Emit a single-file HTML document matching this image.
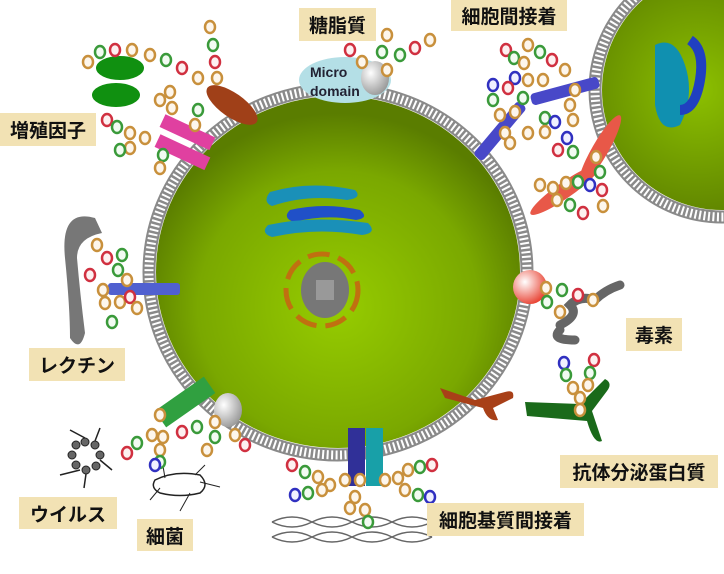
<!DOCTYPE html>
<html><head><meta charset="utf-8"><style>
html,body{margin:0;padding:0;background:#fff;}
.lb{position:absolute;background:#f2e2b4;font-family:"Liberation Sans","Noto Sans CJK JP",sans-serif;font-weight:bold;font-size:19px;color:#111;display:flex;align-items:center;justify-content:center;}
svg{position:absolute;left:0;top:0}
.t{fill:#fdf6ec;stroke:#c8903c;stroke-width:2.5}
.g{fill:#f2fbf2;stroke:#3a9a3a;stroke-width:2.5}
.r{fill:#fdf0f0;stroke:#d03040;stroke-width:2.5}
.b{fill:#f0f0ff;stroke:#3030c0;stroke-width:2.5}
</style></head><body>
<svg width="724" height="574" viewBox="0 0 724 574">
<defs>
<radialGradient id="cg" cx="0.5" cy="0.6" r="0.55">
<stop offset="0" stop-color="#96cc00"/><stop offset="0.7" stop-color="#7aa800"/><stop offset="1" stop-color="#5a7d00"/></radialGradient>
<radialGradient id="cg2" cx="0.4" cy="0.5" r="0.6">
<stop offset="0" stop-color="#8cc000"/><stop offset="1" stop-color="#5a7d00"/></radialGradient>
<radialGradient id="gr" cx="0.35" cy="0.35" r="0.7"><stop offset="0" stop-color="#fff"/><stop offset="1" stop-color="#999"/></radialGradient>
<radialGradient id="rd" cx="0.35" cy="0.35" r="0.7"><stop offset="0" stop-color="#fff"/><stop offset="1" stop-color="#e84030"/></radialGradient>
</defs>
<!-- second cell -->
<circle cx="722" cy="90" r="127" fill="none" stroke="#8a8a8a" stroke-width="13"/>
<circle cx="722" cy="90" r="127" fill="none" stroke="#fff" stroke-width="9" stroke-dasharray="2 2.5"/>
<circle cx="722" cy="90" r="120" fill="url(#cg2)"/>
<path d="M655 45 q20 -10 30 20 q10 30 -5 60 q-20 10 -25 -20z" fill="#1090b0"/>
<path d="M690 40 q15 10 10 40 q-5 30 -20 30" fill="none" stroke="#2040c0" stroke-width="10"/>
<!-- main cell -->
<ellipse cx="338" cy="272" rx="189" ry="183" fill="none" stroke="#8a8a8a" stroke-width="13"/>
<ellipse cx="338" cy="272" rx="189" ry="183" fill="none" stroke="#fff" stroke-width="9" stroke-dasharray="2 2.5"/>
<ellipse cx="338" cy="272" rx="182" ry="176" fill="url(#cg)"/>
<!-- golgi -->
<path d="M270 192 q40 -12 85 -2 q8 8 -8 10 q-40 -6 -75 6 q-10 -4 -2 -14z" fill="#1a90b8"/>
<path d="M290 210 q35 -8 70 0 q10 8 -4 10 q-30 -6 -62 2 q-12 -4 -4 -12z" fill="#2050c8"/>
<path d="M268 225 q45 -10 100 -2 q10 10 -6 12 q-45 -8 -90 2 q-12 -4 -4 -12z" fill="#1a90b8"/>
<!-- nucleus -->
<circle cx="322" cy="290" r="36" fill="none" stroke="#c07010" stroke-width="5" stroke-dasharray="22 9"/>
<ellipse cx="325" cy="290" rx="24" ry="28" fill="#777"/>
<rect x="316" y="280" width="18" height="20" fill="#999"/>
<!-- growth factor receptor -->
<rect x="160" y="125" width="55" height="14" fill="#e040a0" transform="rotate(25 187 132)"/>
<rect x="155" y="145" width="55" height="14" fill="#e040a0" transform="rotate(25 182 152)"/>
<ellipse cx="120" cy="68" rx="24" ry="12" fill="#109010"/>
<ellipse cx="116" cy="95" rx="24" ry="12" fill="#109010"/>
<ellipse cx="232" cy="105" rx="30" ry="12" fill="#a04018" transform="rotate(35 232 105)"/>
<!-- microdomain -->
<ellipse cx="345" cy="80" rx="46" ry="23" fill="#b4dfe6"/>
<text x="310" y="77" font-family="Liberation Sans,sans-serif" font-size="14" font-weight="bold" fill="#223">Micro</text>
<text x="310" y="96" font-family="Liberation Sans,sans-serif" font-size="14" font-weight="bold" fill="#223">domain</text>
<ellipse cx="375" cy="78" rx="14" ry="17" fill="url(#gr)"/>
<!-- cell adhesion -->
<rect x="530" y="85" width="70" height="12" rx="4" fill="#4848c8" transform="rotate(-15 565 91)"/>
<rect x="465" y="125" width="70" height="12" rx="4" fill="#4848c8" transform="rotate(-50 500 131)"/>
<ellipse cx="565" cy="190" rx="42" ry="8" fill="#e85848" transform="rotate(-35 565 190)"/>
<ellipse cx="600" cy="150" rx="40" ry="8" fill="#e85848" transform="rotate(-60 600 150)"/>
<!-- lectin -->
<path d="M95 218 q-35 -10 -30 40 q5 50 5 80 q10 15 15 -5 q-5 -40 -8 -75 q0 -20 25 -25z" fill="#777"/>
<rect x="108" y="283" width="72" height="12" rx="3" fill="#5060d0"/>
<!-- toxin -->
<circle cx="530" cy="287" r="17" fill="url(#rd)"/>
<path d="M560 325 q20 -10 10 -20 q10 -10 25 -5 q10 -10 25 -15" fill="none" stroke="#666" stroke-width="9" stroke-linecap="round"/>
<path d="M560 330 q-10 10 15 10" fill="none" stroke="#666" stroke-width="9" stroke-linecap="round"/>
<!-- antibody -->
<path d="M440 388 l35 12 l30 -8 q10 -3 8 6 l-20 10 l5 12 q-10 2 -15 -12 l-38 -10z" fill="#a84018"/>
<path d="M525 402 l55 2 l25 -25 q8 4 2 12 l-15 20 l10 30 q-8 4 -15 -20 l-60 -5z" fill="#1a6a1a"/>
<!-- bottom receptors -->
<rect x="348" y="428" width="17" height="58" fill="#303098"/>
<rect x="366" y="428" width="17" height="58" fill="#18a0a8"/>
<rect x="155" y="392" width="60" height="20" fill="#30a040" transform="rotate(-35 185 402)"/>
<ellipse cx="228" cy="410" rx="14" ry="17" fill="url(#gr)"/>
<!-- virus -->
<g fill="#666" stroke="#222"><circle cx="85" cy="442" r="4"/><circle cx="95" cy="445" r="4"/><circle cx="100" cy="455" r="4"/><circle cx="96" cy="466" r="4"/><circle cx="86" cy="470" r="4"/><circle cx="76" cy="465" r="4"/><circle cx="72" cy="455" r="4"/><circle cx="76" cy="445" r="4"/></g>
<g stroke="#222" stroke-width="1.5"><line x1="85" y1="438" x2="70" y2="430"/><line x1="95" y1="441" x2="100" y2="428"/><line x1="100" y1="460" x2="112" y2="470"/><line x1="80" y1="470" x2="60" y2="475"/><line x1="86" y1="474" x2="84" y2="488"/></g>
<path d="M155 480 q20 -10 45 -5 q10 10 0 18 q-20 5 -40 0 q-10 -5 -5 -13z" fill="none" stroke="#222" stroke-width="1.5"/>
<path d="M160 488 l-10 12 M190 493 l-10 18 M200 482 l20 5 M165 478 l-2 -12 M195 475 l10 -10" stroke="#222" fill="none"/>
<!-- matrix -->
<path d="M272 522 q20 -10 40 0 t40 0 t40 0 t40 0 M272 522 q20 10 40 0 t40 0 t40 0 t40 0 M272 537 q20 -10 40 0 t40 0 t40 0 t40 0 M272 537 q20 10 40 0 t40 0 t40 0 t40 0" fill="none" stroke="#666" stroke-width="1.5"/>
<!-- beads -->
<g>
<ellipse class="t" cx="210" cy="27" rx="5" ry="6"/><ellipse class="g" cx="213" cy="45" rx="5" ry="6"/><ellipse class="r" cx="215" cy="62" rx="5" ry="6"/><ellipse class="t" cx="217" cy="78" rx="5" ry="6"/>
<ellipse class="t" cx="88" cy="62" rx="5" ry="6"/><ellipse class="g" cx="100" cy="52" rx="5" ry="6"/><ellipse class="r" cx="115" cy="50" rx="5" ry="6"/><ellipse class="t" cx="132" cy="50" rx="5" ry="6"/><ellipse class="t" cx="150" cy="55" rx="5" ry="6"/><ellipse class="g" cx="166" cy="60" rx="5" ry="6"/><ellipse class="r" cx="182" cy="68" rx="5" ry="6"/><ellipse class="t" cx="198" cy="78" rx="5" ry="6"/>
<ellipse class="t" cx="170" cy="92" rx="5" ry="6"/><ellipse class="t" cx="172" cy="108" rx="5" ry="6"/><ellipse class="g" cx="198" cy="110" rx="5" ry="6"/><ellipse class="t" cx="195" cy="125" rx="5" ry="6"/><ellipse class="t" cx="160" cy="100" rx="5" ry="6"/>
<ellipse class="r" cx="107" cy="120" rx="5" ry="6"/><ellipse class="g" cx="117" cy="127" rx="5" ry="6"/><ellipse class="t" cx="130" cy="133" rx="5" ry="6"/><ellipse class="t" cx="145" cy="138" rx="5" ry="6"/><ellipse class="t" cx="130" cy="148" rx="5" ry="6"/><ellipse class="g" cx="120" cy="150" rx="5" ry="6"/><ellipse class="g" cx="163" cy="155" rx="5" ry="6"/><ellipse class="t" cx="160" cy="168" rx="5" ry="6"/>
<ellipse class="r" cx="350" cy="50" rx="5" ry="6"/><ellipse class="t" cx="362" cy="62" rx="5" ry="6"/><ellipse class="t" cx="387" cy="35" rx="5" ry="6"/><ellipse class="g" cx="382" cy="52" rx="5" ry="6"/><ellipse class="g" cx="400" cy="55" rx="5" ry="6"/><ellipse class="r" cx="415" cy="48" rx="5" ry="6"/><ellipse class="t" cx="430" cy="40" rx="5" ry="6"/><ellipse class="t" cx="387" cy="70" rx="5" ry="6"/>
<ellipse class="r" cx="506" cy="50" rx="5" ry="6"/><ellipse class="g" cx="514" cy="58" rx="5" ry="6"/><ellipse class="t" cx="524" cy="63" rx="5" ry="6"/><ellipse class="t" cx="528" cy="45" rx="5" ry="6"/><ellipse class="g" cx="540" cy="52" rx="5" ry="6"/><ellipse class="r" cx="552" cy="60" rx="5" ry="6"/><ellipse class="t" cx="565" cy="70" rx="5" ry="6"/>
<ellipse class="b" cx="493" cy="85" rx="5" ry="6"/><ellipse class="g" cx="493" cy="100" rx="5" ry="6"/><ellipse class="t" cx="500" cy="115" rx="5" ry="6"/><ellipse class="b" cx="515" cy="78" rx="5" ry="6"/><ellipse class="r" cx="508" cy="88" rx="5" ry="6"/><ellipse class="t" cx="528" cy="80" rx="5" ry="6"/><ellipse class="t" cx="543" cy="80" rx="5" ry="6"/><ellipse class="g" cx="523" cy="98" rx="5" ry="6"/><ellipse class="t" cx="515" cy="112" rx="5" ry="6"/><ellipse class="t" cx="505" cy="133" rx="5" ry="6"/>
<ellipse class="t" cx="575" cy="90" rx="5" ry="6"/><ellipse class="t" cx="570" cy="105" rx="5" ry="6"/><ellipse class="t" cx="573" cy="120" rx="5" ry="6"/><ellipse class="g" cx="545" cy="118" rx="5" ry="6"/><ellipse class="b" cx="555" cy="122" rx="5" ry="6"/><ellipse class="b" cx="567" cy="138" rx="5" ry="6"/><ellipse class="g" cx="573" cy="152" rx="5" ry="6"/><ellipse class="r" cx="558" cy="150" rx="5" ry="6"/><ellipse class="t" cx="545" cy="132" rx="5" ry="6"/><ellipse class="t" cx="528" cy="133" rx="5" ry="6"/><ellipse class="t" cx="510" cy="143" rx="5" ry="6"/>
<ellipse class="t" cx="540" cy="185" rx="5" ry="6"/><ellipse class="t" cx="553" cy="188" rx="5" ry="6"/><ellipse class="t" cx="566" cy="183" rx="5" ry="6"/><ellipse class="g" cx="578" cy="182" rx="5" ry="6"/><ellipse class="b" cx="590" cy="185" rx="5" ry="6"/><ellipse class="t" cx="557" cy="200" rx="5" ry="6"/><ellipse class="g" cx="570" cy="205" rx="5" ry="6"/><ellipse class="r" cx="583" cy="213" rx="5" ry="6"/>
<ellipse class="t" cx="596" cy="157" rx="5" ry="6"/><ellipse class="g" cx="600" cy="172" rx="5" ry="6"/><ellipse class="r" cx="602" cy="190" rx="5" ry="6"/><ellipse class="t" cx="603" cy="206" rx="5" ry="6"/>
<ellipse class="t" cx="97" cy="245" rx="5" ry="6"/><ellipse class="r" cx="107" cy="258" rx="5" ry="6"/><ellipse class="g" cx="122" cy="255" rx="5" ry="6"/><ellipse class="g" cx="118" cy="270" rx="5" ry="6"/><ellipse class="t" cx="127" cy="280" rx="5" ry="6"/><ellipse class="r" cx="90" cy="275" rx="5" ry="6"/><ellipse class="t" cx="103" cy="290" rx="5" ry="6"/><ellipse class="t" cx="105" cy="303" rx="5" ry="6"/><ellipse class="t" cx="120" cy="302" rx="5" ry="6"/><ellipse class="r" cx="130" cy="297" rx="5" ry="6"/><ellipse class="t" cx="137" cy="308" rx="5" ry="6"/><ellipse class="g" cx="112" cy="322" rx="5" ry="6"/>
<ellipse class="t" cx="546" cy="288" rx="5" ry="6"/><ellipse class="g" cx="562" cy="290" rx="5" ry="6"/><ellipse class="r" cx="578" cy="295" rx="5" ry="6"/><ellipse class="t" cx="593" cy="300" rx="5" ry="6"/><ellipse class="g" cx="547" cy="302" rx="5" ry="6"/><ellipse class="t" cx="560" cy="312" rx="5" ry="6"/>
<ellipse class="b" cx="564" cy="363" rx="5" ry="6"/><ellipse class="r" cx="594" cy="360" rx="5" ry="6"/><ellipse class="g" cx="566" cy="375" rx="5" ry="6"/><ellipse class="g" cx="590" cy="373" rx="5" ry="6"/><ellipse class="t" cx="573" cy="388" rx="5" ry="6"/><ellipse class="t" cx="588" cy="385" rx="5" ry="6"/><ellipse class="t" cx="580" cy="398" rx="5" ry="6"/><ellipse class="t" cx="580" cy="410" rx="5" ry="6"/>
<ellipse class="t" cx="160" cy="415" rx="5" ry="6"/><ellipse class="t" cx="152" cy="435" rx="5" ry="6"/><ellipse class="g" cx="137" cy="443" rx="5" ry="6"/><ellipse class="r" cx="127" cy="453" rx="5" ry="6"/><ellipse class="t" cx="163" cy="437" rx="5" ry="6"/><ellipse class="r" cx="182" cy="432" rx="5" ry="6"/><ellipse class="g" cx="197" cy="427" rx="5" ry="6"/><ellipse class="t" cx="215" cy="422" rx="5" ry="6"/><ellipse class="g" cx="215" cy="437" rx="5" ry="6"/><ellipse class="t" cx="207" cy="450" rx="5" ry="6"/><ellipse class="t" cx="160" cy="450" rx="5" ry="6"/><ellipse class="g" cx="160" cy="462" rx="5" ry="6"/><ellipse class="b" cx="155" cy="465" rx="5" ry="6"/><ellipse class="t" cx="235" cy="435" rx="5" ry="6"/><ellipse class="r" cx="245" cy="445" rx="5" ry="6"/>
<ellipse class="r" cx="292" cy="465" rx="5" ry="6"/><ellipse class="g" cx="305" cy="472" rx="5" ry="6"/><ellipse class="t" cx="318" cy="477" rx="5" ry="6"/><ellipse class="t" cx="330" cy="485" rx="5" ry="6"/><ellipse class="t" cx="345" cy="480" rx="5" ry="6"/><ellipse class="t" cx="360" cy="480" rx="5" ry="6"/><ellipse class="b" cx="295" cy="495" rx="5" ry="6"/><ellipse class="g" cx="308" cy="493" rx="5" ry="6"/><ellipse class="t" cx="322" cy="490" rx="5" ry="6"/><ellipse class="t" cx="355" cy="497" rx="5" ry="6"/><ellipse class="t" cx="350" cy="508" rx="5" ry="6"/><ellipse class="t" cx="365" cy="510" rx="5" ry="6"/><ellipse class="g" cx="368" cy="522" rx="5" ry="6"/>
<ellipse class="t" cx="385" cy="480" rx="5" ry="6"/><ellipse class="t" cx="398" cy="478" rx="5" ry="6"/><ellipse class="t" cx="408" cy="470" rx="5" ry="6"/><ellipse class="g" cx="420" cy="467" rx="5" ry="6"/><ellipse class="r" cx="432" cy="465" rx="5" ry="6"/><ellipse class="t" cx="405" cy="490" rx="5" ry="6"/><ellipse class="g" cx="418" cy="495" rx="5" ry="6"/><ellipse class="b" cx="430" cy="497" rx="5" ry="6"/>
</g>
</svg>
<div class="lb" style="left:299px;top:8px;width:77px;height:33px">糖脂質</div>
<div class="lb" style="left:451px;top:0px;width:116px;height:31px">細胞間接着</div>
<div class="lb" style="left:0px;top:113px;width:96px;height:33px">増殖因子</div>
<div class="lb" style="left:29px;top:348px;width:96px;height:33px">レクチン</div>
<div class="lb" style="left:626px;top:318px;width:56px;height:33px">毒素</div>
<div class="lb" style="left:560px;top:455px;width:158px;height:33px">抗体分泌蛋白質</div>
<div class="lb" style="left:19px;top:497px;width:98px;height:32px">ウイルス</div>
<div class="lb" style="left:137px;top:519px;width:56px;height:32px">細菌</div>
<div class="lb" style="left:427px;top:503px;width:157px;height:33px">細胞基質間接着</div>
</body></html>
